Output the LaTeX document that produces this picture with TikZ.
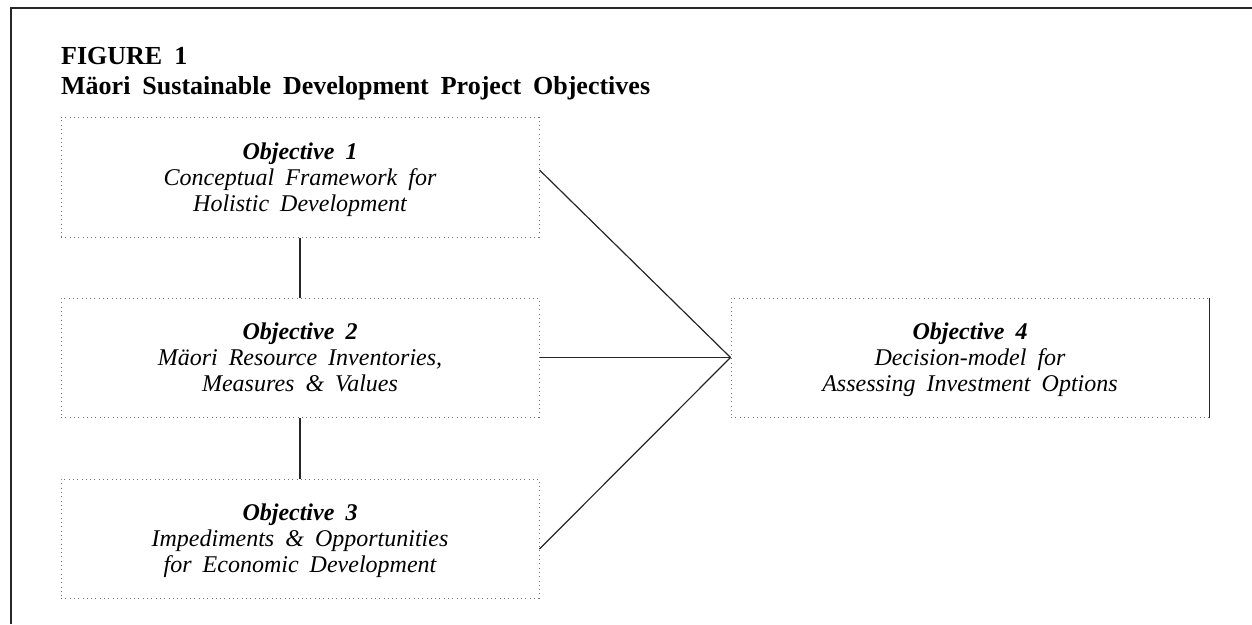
\documentclass[tikz,border=0pt]{standalone}
\usepackage{fontspec}
\setmainfont{Liberation Serif}
\newcommand{\widesp}{\spaceskip=0.46em plus 0.1em\relax}
\newcommand{\boxfont}{\fontsize{24}{26}\selectfont\itshape\widesp}
\newcommand{\titlefont}{\fontsize{26}{30}\selectfont\bfseries\widesp}
\begin{document}
\begin{tikzpicture}[x=1pt,y=-1pt,
  framerule/.style={line width=2pt, draw=black!85},
  objbox/.style={draw=black!55, line width=1pt, dash pattern=on 1pt off 3.3pt,
    minimum width=478pt, inner sep=0pt, align=center, text depth=0pt, font=\boxfont},
  conn/.style={draw=black!85, line width=1.2pt},
  titletext/.style={anchor=base west, inner sep=0pt, font=\titlefont}]
\useasboundingbox (0,0) rectangle (1252,624);
% outer frame
\coordinate (ftl) at (11,8);
\coordinate (ftr) at (1252,8);
\coordinate (fbl) at (11,624);
\draw[framerule] (ftr) -- (ftl) -- (fbl);
% titles
\node[titletext] (fig) at (61,64) {FIGURE 1};
\node[titletext] (ttl) at (61,94) {Mäori Sustainable Development Project Objectives};
% boxes
\node[objbox, minimum height=120pt] (o1) at (300,177)
  {\textbf{Objective 1}\\Conceptual Framework for\\Holistic Development};
\node[objbox, minimum height=119pt] (o2) at (300,357.5)
  {\textbf{Objective 2}\\Mäori Resource Inventories,\\Measures \& Values};
\node[objbox, minimum height=119pt] (o3) at (300,538.5)
  {\textbf{Objective 3}\\Impediments \& Opportunities\\for Economic Development};
\node[objbox, minimum height=119pt] (o4) at (970,357.5)
  {\textbf{Objective 4}\\Decision-model for\\Assessing Investment Options};
\draw[draw=black!85, line width=1.5pt] (o4.north east) -- (o4.south east);
% connectors
\draw[conn] (o1.south) -- (o2.north);
\draw[conn] (o2.south) -- (o3.north);
\draw[conn] ([yshift=7pt]o1.east) -- (o4.west);
\draw[conn] (o2.east) -- (o4.west);
\draw[conn] ([yshift=-10.5pt]o3.east) -- (o4.west);
\end{tikzpicture}
\end{document}
